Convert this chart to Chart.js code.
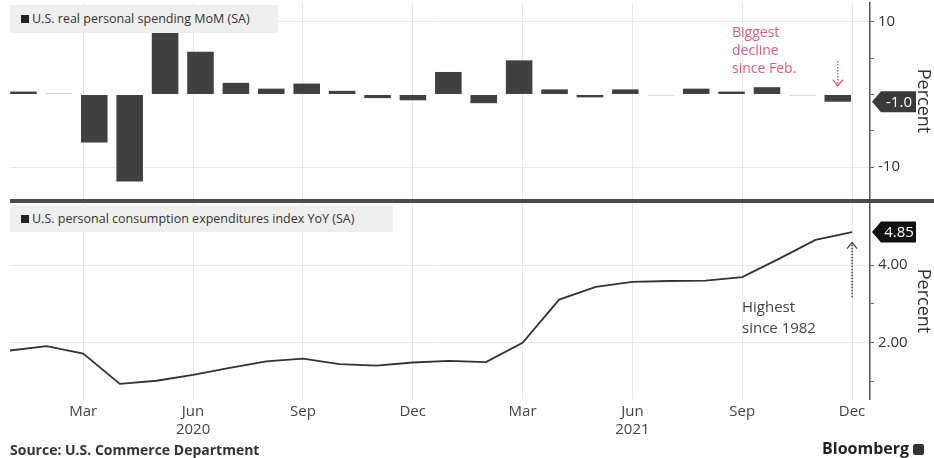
<!DOCTYPE html>
<html lang="en">
<head>
<meta charset="UTF-8">
<title>U.S. real spending and PCE</title>
<style>
  body { margin: 0; width: 934px; height: 458px; background: #fff; position: relative; overflow: hidden;
         font-family: 'Open Sans', sans-serif; color: #333; }
  .panel { position: absolute; left: 0; }
  .legend { position: absolute; left: 10px; background: #efefef; font-size: 12.5px; color: #333;
            padding-left: 22px; box-sizing: border-box; white-space: nowrap; }
  .legend::before { content: ''; position: absolute; left: 11px; top: 50%; width: 8px; height: 8px;
                    margin-top: -4px; background: #222; }
  .note { position: absolute; white-space: nowrap; }
  #sep { position: absolute; left: 10px; top: 199px; width: 924px; height: 4px; background: #4a4a4a; }
  #source { position: absolute; left: 10px; top: 440px; font-size: 14px; font-weight: bold; color: #333; }
  #brand { position: absolute; left: 822px; top: 437px; font-size: 16px; font-weight: bold; color: #222; }
  #brand span { display: inline-block; width: 11px; height: 11px; background: #333; margin-left: 4px;
                border-radius: 2px; vertical-align: -1px; }
</style>
<script src="https://cdn.jsdelivr.net/npm/chart.js"></script>
</head>
<body>
  <div class="panel" style="top:0"><canvas id="topChart" width="934" height="199"></canvas></div>
  <div class="panel" style="top:203px"><canvas id="bottomChart" width="934" height="255"></canvas></div>
  <div id="sep"></div>

  <div class="legend" style="top:5px; width:268px; height:28px; line-height:28px;">U.S. real personal spending MoM (SA)</div>
  <div class="legend" style="top:205px; width:383px; height:27px; line-height:27px;">U.S. personal consumption expenditures index YoY (SA)</div>

  <div class="note" style="left:732px; top:23px; font-size:14px; line-height:18px; color:#e3587d;">Biggest<br>decline<br>since Feb.</div>
  <div class="note" style="left:742px; top:296px; font-size:15px; line-height:21px; color:#444;">Highest<br>since 1982</div>

  <div id="source">Source: U.S. Commerce Department</div>
  <div id="brand">Bloomberg<span></span></div>

<script>
// monthly, Jan 2020 .. Dec 2021
const months = ['Jan 2020', 'Feb 2020', 'Mar 2020', 'Apr 2020', 'May 2020', 'Jun 2020',
                'Jul 2020', 'Aug 2020', 'Sep 2020', 'Oct 2020', 'Nov 2020', 'Dec 2020',
                'Jan 2021', 'Feb 2021', 'Mar 2021', 'Apr 2021', 'May 2021', 'Jun 2021',
                'Jul 2021', 'Aug 2021', 'Sep 2021', 'Oct 2021', 'Nov 2021', 'Dec 2021'];

// real personal spending MoM, %
const spendMoM = [0.4, 0.1, -6.6, -12.0, 8.6, 5.9, 1.6, 0.8, 1.5, 0.5, -0.5, -0.8,
                  3.1, -1.2, 4.7, 0.7, -0.4, 0.7, -0.1, 0.8, 0.4, 1.0, -0.1, -1.0];

// PCE price index YoY, %
const pceYoY = [1.80, 1.91, 1.72, 0.94, 1.02, 1.17, 1.35, 1.52, 1.59, 1.45, 1.41, 1.49,
                1.53, 1.50, 2.00, 3.11, 3.44, 3.57, 3.59, 3.60, 3.69, 4.16, 4.65, 4.85];

// x axis ticks (month index) and their labels
const xTickIdx = [2, 5, 8, 11, 14, 17, 20, 23];
const xTickLabels = [['Mar'], ['Jun', '2020'], ['Sep'], ['Dec'], ['Mar'], ['Jun', '2021'], ['Sep'], ['Dec']];

const topTicks = [-10, -5, 0, 5, 10];
const topLabelled = [-10, 10];
const bottomTicks = [1, 2, 3, 4];
const bottomLabelled = [2, 4];

const gridColor = '#e8e8e8';
const axisColor = '#555';
const tickFont = { family: 'Open Sans', size: 15 };

// dark value tag at the right axis for the latest value
const lastTag = {
    id: 'lastTag',
    afterDraw(chart, args, opts) {
        const { ctx, chartArea } = chart;
        const data = chart.data.datasets[0].data;
        const y = chart.scales.y.getPixelForValue(data[data.length - 1].y);
        const x0 = chartArea.right + 2;
        const h = 21;
        ctx.save();
        ctx.fillStyle = opts.color;
        ctx.beginPath();
        ctx.moveTo(x0, y);
        ctx.lineTo(x0 + 9, y - h / 2);
        ctx.lineTo(x0 + 44, y - h / 2);
        ctx.lineTo(x0 + 44, y + h / 2);
        ctx.lineTo(x0 + 9, y + h / 2);
        ctx.closePath();
        ctx.fill();
        ctx.fillStyle = '#fff';
        ctx.font = '15px "Open Sans"';
        ctx.textAlign = 'center';
        ctx.textBaseline = 'middle';
        ctx.fillText(opts.text, x0 + 27, y + 1);
        ctx.restore();
    }
};

// dotted arrow pointing at the latest value
const dottedArrow = {
    id: 'dottedArrow',
    afterDatasetsDraw(chart, args, opts) {
        const { ctx } = chart;
        const x = chart.scales[opts.xAxis].getPixelForValue(opts.at);
        const yFrom = chart.scales.y.getPixelForValue(opts.from);
        const yTo = chart.scales.y.getPixelForValue(opts.to);
        const dir = yTo > yFrom ? 1 : -1;
        ctx.save();
        ctx.strokeStyle = opts.color;
        ctx.lineWidth = 1.5;
        ctx.setLineDash([1.5, 1.5]);
        ctx.beginPath();
        ctx.moveTo(x, yFrom);
        ctx.lineTo(x, yTo);
        ctx.stroke();
        ctx.setLineDash([]);
        ctx.lineWidth = 1.3;
        ctx.beginPath();
        ctx.moveTo(x - 5, yTo - dir * 6);
        ctx.lineTo(x, yTo);
        ctx.lineTo(x + 5, yTo - dir * 6);
        ctx.stroke();
        ctx.restore();
    }
};

// fixed axis width, and no extra room for half tick labels above/below
function fitAxis(scale) {
    if (scale.isHorizontal()) {
        scale.paddingLeft = 0;
        scale.paddingRight = 0;
    } else {
        scale.width = 64;
        scale.paddingTop = 0;
        scale.paddingBottom = 0;
    }
}

function rightAxis(min, max, ticks, labelled, fmt) {
    return {
        position: 'right',
        min: min,
        max: max,
        afterBuildTicks: s => { s.ticks = ticks.map(v => ({ value: v })); },
        afterFit: fitAxis,
        border: { display: true, color: axisColor, width: 1.5 },
        grid: {
            color: c => labelled.includes(c.tick.value) ? gridColor : 'rgba(0,0,0,0)',
            tickColor: '#666',
            tickLength: 4,
            lineWidth: 1
        },
        ticks: {
            color: '#333',
            font: tickFont,
            padding: 4,
            callback: v => labelled.includes(v) ? fmt(v) : ''
        },
        title: {
            display: true,
            text: 'Percent',
            color: '#333',
            font: { family: 'Open Sans', size: 18 },
            padding: 0
        }
    };
}

function monthAxis(showLabels) {
    return {
        type: 'linear',
        min: 0,
        max: 23.49,
        offset: false,
        afterBuildTicks: s => { s.ticks = xTickIdx.map(v => ({ value: v })); },
        afterFit: fitAxis,
        border: { display: false },
        grid: { color: gridColor, drawTicks: false, offset: false },
        ticks: {
            display: showLabels,
            autoSkip: false,
            maxRotation: 0,
            color: '#444',
            font: tickFont,
            padding: 4,
            callback: (v, i) => xTickLabels[i]
        }
    };
}

Chart.defaults.font.family = 'Open Sans';

new Chart(document.getElementById('topChart'), {
    type: 'bar',
    data: {
        labels: months,
        datasets: [{
            label: 'U.S. real personal spending MoM (SA)',
            data: spendMoM.map((v, i) => ({ x: i, y: v })),
            xAxisID: 'xb',
            backgroundColor: '#404040',
            borderWidth: 0,
            barPercentage: 0.75,
            categoryPercentage: 1
        }]
    },
    options: {
        responsive: false,
        devicePixelRatio: 1,
        animation: false,
        layout: { padding: { left: 10, top: 3, right: 0, bottom: 0 } },
        plugins: {
            legend: { display: false },
            tooltip: { enabled: false },
            lastTag: { text: '-1.0', color: '#3a3a3a' },
            dottedArrow: { xAxis: 'xb', at: 23, from: 4.6, to: 1.2, color: '#e3587d' }
        },
        scales: {
            x: monthAxis(false),
            xb: { type: 'linear', display: false, offset: false, min: -0.38, max: 23.91 },
            y: rightAxis(-14.4, 12.6, topTicks, topLabelled, v => String(v))
        }
    },
    plugins: [lastTag, dottedArrow]
});

new Chart(document.getElementById('bottomChart'), {
    type: 'line',
    data: {
        labels: months,
        datasets: [{
            label: 'U.S. personal consumption expenditures index YoY (SA)',
            data: pceYoY.map((v, i) => ({ x: i, y: v })),
            borderColor: '#333',
            borderWidth: 1.8,
            pointRadius: 0,
            tension: 0,
            fill: false
        }]
    },
    options: {
        responsive: false,
        devicePixelRatio: 1,
        animation: false,
        layout: { padding: { left: 10, top: 0, right: 0, bottom: 15 } },
        plugins: {
            legend: { display: false },
            tooltip: { enabled: false },
            lastTag: { text: '4.85', color: '#111' },
            dottedArrow: { xAxis: 'x', at: 23, from: 3.17, to: 4.58, color: '#444' }
        },
        scales: {
            x: monthAxis(true),
            y: rightAxis(0.55, 5.6, bottomTicks, bottomLabelled, v => v.toFixed(2))
        }
    },
    plugins: [lastTag, dottedArrow]
});
</script>
</body>
</html>
